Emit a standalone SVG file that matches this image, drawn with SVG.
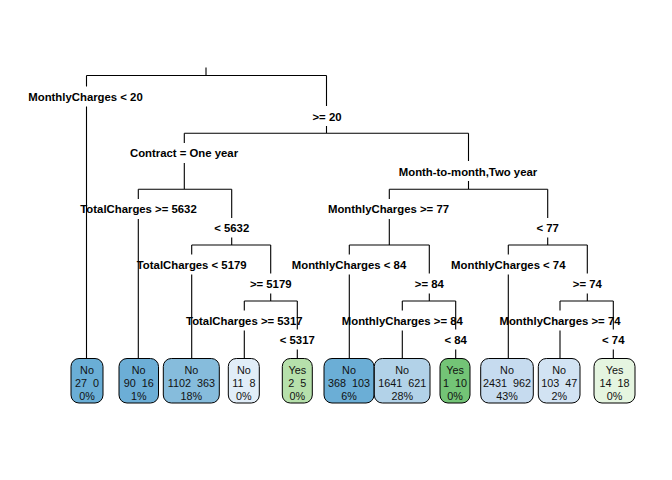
<svg xmlns="http://www.w3.org/2000/svg" width="672" height="480" viewBox="0 0 672 480">
<style>
.e{stroke:#000;stroke-width:1.1;fill:none}
.lb{font-family:"Liberation Sans",Arial,sans-serif;font-size:11.35px;font-weight:bold;fill:#000;text-anchor:middle}
.lf{font-family:"Liberation Sans",Arial,sans-serif;font-size:10.8px;fill:#111;text-anchor:middle;white-space:pre}
.bx{stroke:#000;stroke-width:1}
</style>
<rect width="672" height="480" fill="#fff"/>
<g id="connectors" class="e">
<path d="M206,67.5V75.5M86.5,75.5H326.5"/>
<path d="M86.5,75.5V86.5M86.5,106.5V358.5"/>
<path d="M326.5,75.5V106M326.5,126V133.3M184.3,133.3H468.5"/>
<path d="M184.3,133.3V143M184.3,163V189.3M138.3,189.3H231.7"/>
<path d="M468.5,133.3V161M468.5,181V189.3M389.3,189.3H547.7"/>
<path d="M138.3,189.3V199M138.3,219V358.5"/>
<path d="M231.7,189.3V218M231.7,237.5V245M191.7,245H270.7"/>
<path d="M191.7,245V254.5M191.7,274.5V358.5"/>
<path d="M270.7,245V273.5M270.7,293.5V301M244.3,301H297.3"/>
<path d="M244.3,301V310.5M244.3,330.5V358.5"/>
<path d="M297.3,301V329.5M297.3,349.5V358.5"/>
<path d="M389.3,189.3V199M389.3,219V245M349.3,245H429.3"/>
<path d="M349.3,245V254.5M349.3,274.5V358.5"/>
<path d="M429.3,245V273.5M429.3,293.5V301M402.3,301H455.7"/>
<path d="M402.3,301V310.5M402.3,330.5V358.5"/>
<path d="M455.7,301V329.5M455.7,349.5V358.5"/>
<path d="M547.7,189.3V218M547.7,237.5V245M508.3,245H587.3"/>
<path d="M508.3,245V254.5M508.3,274.5V358.5"/>
<path d="M587.3,245V273.5M587.3,293.5V301M560,301H613.3"/>
<path d="M560,301V310.5M560,330.5V358.5"/>
<path d="M613.3,301V329.5M613.3,349.5V358.5"/>
</g>
<g id="split-labels">
<text class="lb" x="85.5" y="101">MonthlyCharges &lt; 20</text>
<text class="lb" x="327" y="120.5">&gt;= 20</text>
<text class="lb" x="184" y="157.3">Contract = One year</text>
<text class="lb" x="468" y="175.7">Month-to-month,Two year</text>
<text class="lb" x="138.5" y="213.3">TotalCharges &gt;= 5632</text>
<text class="lb" x="231.7" y="232.3">&lt; 5632</text>
<text class="lb" x="191.7" y="269">TotalCharges &lt; 5179</text>
<text class="lb" x="270.7" y="288">&gt;= 5179</text>
<text class="lb" x="244.3" y="325">TotalCharges &gt;= 5317</text>
<text class="lb" x="297.3" y="344">&lt; 5317</text>
<text class="lb" x="388.5" y="213.3">MonthlyCharges &gt;= 77</text>
<text class="lb" x="547.7" y="232.3">&lt; 77</text>
<text class="lb" x="349" y="269">MonthlyCharges &lt; 84</text>
<text class="lb" x="429.3" y="288">&gt;= 84</text>
<text class="lb" x="402.3" y="325">MonthlyCharges &gt;= 84</text>
<text class="lb" x="455.7" y="344">&lt; 84</text>
<text class="lb" x="508.3" y="269">MonthlyCharges &lt; 74</text>
<text class="lb" x="587.3" y="288">&gt;= 74</text>
<text class="lb" x="560" y="325">MonthlyCharges &gt;= 74</text>
<text class="lb" x="613.3" y="344">&lt; 74</text>
</g>
<g id="leaf1"><rect class="bx" x="71" y="358.5" width="32" height="44.5" rx="8" fill="#6aaed6"/>
<text class="lf" x="87" y="373.5">No</text><text class="lf" x="87" y="386.5">27  0</text><text class="lf" x="87" y="399.5">0%</text></g>
<g id="leaf2"><rect class="bx" x="119" y="358.5" width="39.5" height="44.5" rx="8" fill="#6caed6"/>
<text class="lf" x="138.7" y="373.5">No</text><text class="lf" x="138.7" y="386.5">90  16</text><text class="lf" x="138.7" y="399.5">1%</text></g>
<g id="leaf3"><rect class="bx" x="163.3" y="358.5" width="56" height="44.5" rx="8" fill="#86bcdc"/>
<text class="lf" x="191.3" y="373.5">No</text><text class="lf" x="191.3" y="386.5">1102  363</text><text class="lf" x="191.3" y="399.5">18%</text></g>
<g id="leaf4"><rect class="bx" x="228.3" y="358.5" width="31" height="44.5" rx="8" fill="#e1edf8"/>
<text class="lf" x="243.8" y="373.5">No</text><text class="lf" x="243.8" y="386.5">11  8</text><text class="lf" x="243.8" y="399.5">0%</text></g>
<g id="leaf5"><rect class="bx" x="282.3" y="358.5" width="30" height="44.5" rx="8" fill="#b6e0ab"/>
<text class="lf" x="297.3" y="373.5">Yes</text><text class="lf" x="297.3" y="386.5">2  5</text><text class="lf" x="297.3" y="399.5">0%</text></g>
<g id="leaf6"><rect class="bx" x="324" y="358.5" width="50" height="44.5" rx="8" fill="#6baed6"/>
<text class="lf" x="349" y="373.5">No</text><text class="lf" x="349" y="386.5">368  103</text><text class="lf" x="349" y="399.5">6%</text></g>
<g id="leaf7"><rect class="bx" x="374.3" y="358.5" width="55.7" height="44.5" rx="8" fill="#b2d2e8"/>
<text class="lf" x="402.2" y="373.5">No</text><text class="lf" x="402.2" y="386.5">1641  621</text><text class="lf" x="402.2" y="399.5">28%</text></g>
<g id="leaf8"><rect class="bx" x="440" y="358.5" width="30" height="44.5" rx="8" fill="#73c476"/>
<text class="lf" x="455" y="373.5">Yes</text><text class="lf" x="455" y="386.5">1  10</text><text class="lf" x="455" y="399.5">0%</text></g>
<g id="leaf9"><rect class="bx" x="480.7" y="358.5" width="52.6" height="44.5" rx="8" fill="#c6dbef"/>
<text class="lf" x="507" y="373.5">No</text><text class="lf" x="507" y="386.5">2431  962</text><text class="lf" x="507" y="399.5">43%</text></g>
<g id="leaf10"><rect class="bx" x="538.3" y="358.5" width="41.7" height="44.5" rx="8" fill="#d2e3f3"/>
<text class="lf" x="559.2" y="373.5">No</text><text class="lf" x="559.2" y="386.5">103  47</text><text class="lf" x="559.2" y="399.5">2%</text></g>
<g id="leaf11"><rect class="bx" x="594" y="358.5" width="41" height="44.5" rx="8" fill="#e5f5e0"/>
<text class="lf" x="614.5" y="373.5">Yes</text><text class="lf" x="614.5" y="386.5">14  18</text><text class="lf" x="614.5" y="399.5">0%</text></g>
</svg>
